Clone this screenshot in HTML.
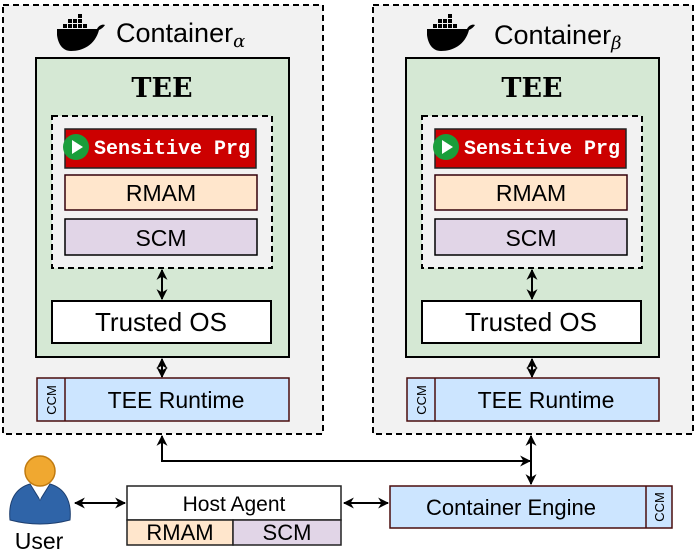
<!DOCTYPE html>
<html><head><meta charset="utf-8"><style>
html,body{margin:0;padding:0;background:#fff;}
svg{display:block;font-family:"Liberation Sans","DejaVu Sans",sans-serif;}
</style></head><body>
<svg width="696" height="551" viewBox="0 0 696 551" xmlns="http://www.w3.org/2000/svg">
<defs>
<marker id="a" viewBox="0 0 10 10" refX="9" refY="5" markerWidth="11" markerHeight="11" orient="auto-start-reverse" markerUnits="userSpaceOnUse"><path d="M0,0 L10,5 L0,10 L3,5 z" fill="#000"/></marker>
<g id="dock">
<path d="M0,14 H40 C42,10 46,9 48,10 C46,13 44,14 42,15 C38,30 26,36 14,36 C5,36 1,28 0,20 Z" fill="#000"/>
<rect x="6" y="9" width="4" height="4"/><rect x="11" y="9" width="4" height="4"/><rect x="16" y="9" width="4" height="4"/><rect x="21" y="9" width="4" height="4"/><rect x="26" y="9" width="4" height="4"/>
<rect x="11" y="4" width="4" height="4"/><rect x="16" y="4" width="4" height="4"/><rect x="21" y="4" width="4" height="4"/><rect x="21" y="-1" width="4" height="4"/>
</g>
<g id="cont">
<rect x="3" y="5" width="320" height="429" fill="#f2f2f2" stroke="#000" stroke-width="2" stroke-dasharray="6,4"/>
<use href="#dock" x="57" y="15"/>
<rect x="36" y="58" width="253" height="299" fill="#d5e8d4" stroke="#000" stroke-width="2"/>
<text x="162" y="97" text-anchor="middle" font-family="'DejaVu Serif','Liberation Serif',serif" font-weight="bold" font-size="27">TEE</text>
<rect x="52" y="116" width="220" height="152" fill="#f2f2f2" stroke="#000" stroke-width="2" stroke-dasharray="6,4"/>
<rect x="65" y="129" width="191" height="39" fill="#cc0000" stroke="#222" stroke-width="1.5"/>
<circle cx="76" cy="147" r="13" fill="#1a9e3a"/>
<path d="M72,140 L83,147 L72,154 z" fill="#fff"/>
<text x="94" y="154" fill="#fff" font-family="'Liberation Mono','DejaVu Sans Mono',monospace" font-weight="bold" font-size="20">Sensitive Prg</text>
<rect x="65" y="175" width="192" height="35" fill="#ffe6cc" stroke="#33000a" stroke-width="1.5"/>
<text x="161" y="201" text-anchor="middle" font-size="23">RMAM</text>
<rect x="65" y="219" width="192" height="36" fill="#e1d5e7" stroke="#000" stroke-width="1.5"/>
<text x="161" y="246" text-anchor="middle" font-size="23">SCM</text>
<line x1="162" y1="270" x2="162" y2="299" stroke="#000" stroke-width="2" marker-start="url(#a)" marker-end="url(#a)"/>
<rect x="52" y="301" width="219" height="42" fill="#fff" stroke="#000" stroke-width="2"/>
<text x="161" y="331" text-anchor="middle" font-size="26">Trusted OS</text>
<line x1="162" y1="359" x2="162" y2="377" stroke="#000" stroke-width="2" marker-start="url(#a)" marker-end="url(#a)"/>
<rect x="37" y="378" width="252" height="43" fill="#cce5ff" stroke="#4a0d0d" stroke-width="1.5"/>
<line x1="65" y1="378" x2="65" y2="421" stroke="#4a0d0d" stroke-width="1.5"/>
<text transform="translate(56,400) rotate(-90)" text-anchor="middle" font-size="13">CCM</text>
<text x="176" y="408" text-anchor="middle" font-size="23">TEE Runtime</text>
</g>
</defs>
<use href="#cont"/>
<use href="#cont" x="370"/>
<text x="116" y="42" font-size="27">Container<tspan font-family="'DejaVu Serif',serif" font-style="italic" font-size="18" dy="5">α</tspan></text>
<text x="494" y="44" font-size="27">Container<tspan font-family="'DejaVu Serif',serif" font-style="italic" font-size="18" dy="5">β</tspan></text>
<polyline points="162,436 162,461 530,461" fill="none" stroke="#000" stroke-width="2" marker-start="url(#a)" marker-end="url(#a)"/>
<line x1="531" y1="436" x2="531" y2="484" stroke="#000" stroke-width="2" marker-start="url(#a)" marker-end="url(#a)"/>
<line x1="75" y1="503" x2="125" y2="503" stroke="#000" stroke-width="2" marker-start="url(#a)" marker-end="url(#a)"/>
<line x1="344" y1="503" x2="388" y2="503" stroke="#000" stroke-width="2" marker-start="url(#a)" marker-end="url(#a)"/>
<rect x="127" y="486" width="214" height="34" fill="#fff" stroke="#222" stroke-width="1.5"/>
<text x="234" y="511" text-anchor="middle" font-size="21">Host Agent</text>
<rect x="127" y="520" width="106" height="25" fill="#ffe6cc" stroke="#222" stroke-width="1.5"/>
<text x="180" y="540" text-anchor="middle" font-size="22">RMAM</text>
<rect x="233" y="520" width="108" height="25" fill="#e1d5e7" stroke="#222" stroke-width="1.5"/>
<text x="287" y="540" text-anchor="middle" font-size="22">SCM</text>
<rect x="390" y="486" width="282" height="42" fill="#cce5ff" stroke="#4a0d0d" stroke-width="1.5"/>
<line x1="646" y1="486" x2="646" y2="528" stroke="#4a0d0d" stroke-width="1.5"/>
<text transform="translate(664,507) rotate(-90)" text-anchor="middle" font-size="13">CCM</text>
<text x="511" y="515" text-anchor="middle" font-size="22">Container Engine</text>
<path d="M10,520 C8,500 16,488 30,484 L40,500 L50,484 C64,488 72,500 70,520 Q40,528 10,520 Z" fill="#2f64a8" stroke="#1d3f70" stroke-width="1"/>
<path d="M35,486 L40,500 L45,486 Z" fill="#fff"/>
<circle cx="40" cy="471" r="15" fill="#f0a830" stroke="#c07a10" stroke-width="1.5"/>
<text x="39" y="549" text-anchor="middle" font-size="23">User</text>
</svg>
</body></html>
